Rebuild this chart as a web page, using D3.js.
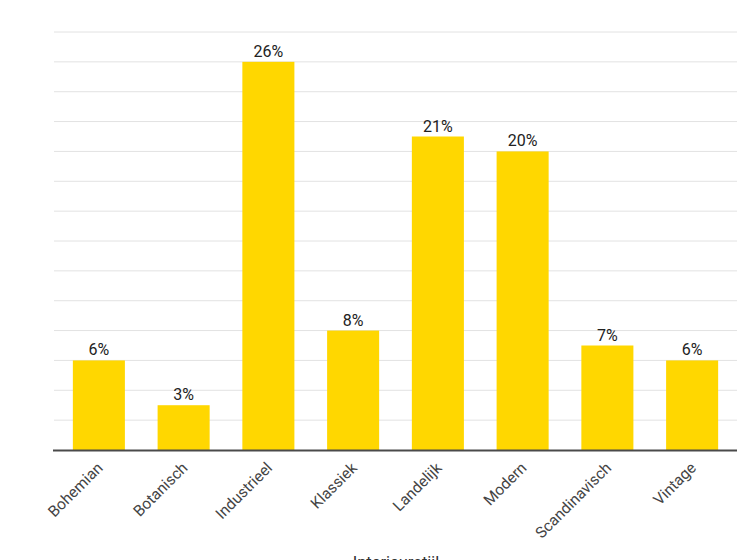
<!DOCTYPE html>
<html><head><meta charset="utf-8">
<script src="https://cdn.jsdelivr.net/npm/d3@7"></script>
<style>
body{margin:0;background:#fff;}
svg{display:block;font-family:Roboto,"Noto Sans",sans-serif;}
</style></head>
<body>
<svg id="chart" width="746" height="560"></svg>
<script>
const categories = ["Bohemian","Botanisch","Industrieel","Klassiek","Landelijk","Modern","Scandinavisch","Vintage"];
const values = [6,3,26,8,21,20,7,6];
const yTicks = [0,2,4,6,8,10,12,14,16,18,20,22,24,26,28];
const xTitle = "Interieurstijl";

const svg = d3.select("#chart");
const plot = {left:54, right:737, top:32, bottom:450};

const x = d3.scaleBand().domain(categories).range([56.5,734.5]).paddingInner(0.386).paddingOuter(0.193);
const y = d3.scaleLinear().domain([0,28]).range([plot.bottom, plot.top]);

// gridlines
svg.append("g").selectAll("line").data(yTicks.filter(d=>d>0)).join("line")
  .attr("x1",plot.left).attr("x2",plot.right)
  .attr("y1",d=>y(d)).attr("y2",d=>y(d))
  .attr("stroke","#e2e2e2").attr("stroke-width",1);

// bars
svg.append("g").selectAll("rect").data(values).join("rect")
  .attr("x",(d,i)=>x(categories[i]))
  .attr("width",x.bandwidth())
  .attr("y",d=>y(d))
  .attr("height",d=>y(0)-y(d))
  .attr("fill","#FFD700");

// value labels
svg.append("g").selectAll("text").data(values).join("text")
  .attr("x",(d,i)=>x(categories[i])+x.bandwidth()/2)
  .attr("y",d=>y(d)-5)
  .attr("text-anchor","middle")
  .attr("font-size",16)
  .attr("fill","#222")
  .text(d=>d+"%");

// baseline
svg.append("line").attr("x1",plot.left-1).attr("x2",plot.right)
  .attr("y1",y(0)+0.5).attr("y2",y(0)+0.5)
  .attr("stroke","#4a4a4a").attr("stroke-width",2);

// x labels
svg.append("g").selectAll("text").data(categories).join("text")
  .attr("transform",d=>`translate(${x(d)+x.bandwidth()/2+1},${y(0)+15}) rotate(-45)`)
  .attr("text-anchor","end")
  .attr("dy","0.35em")
  .attr("font-size",15.5)
  .attr("fill","#444")
  .text(d=>d);

// x title
svg.append("text").attr("x",396).attr("y",568)
  .attr("text-anchor","middle").attr("font-size",16.5).attr("fill","#333")
  .text(xTitle);
</script>
</body></html>
